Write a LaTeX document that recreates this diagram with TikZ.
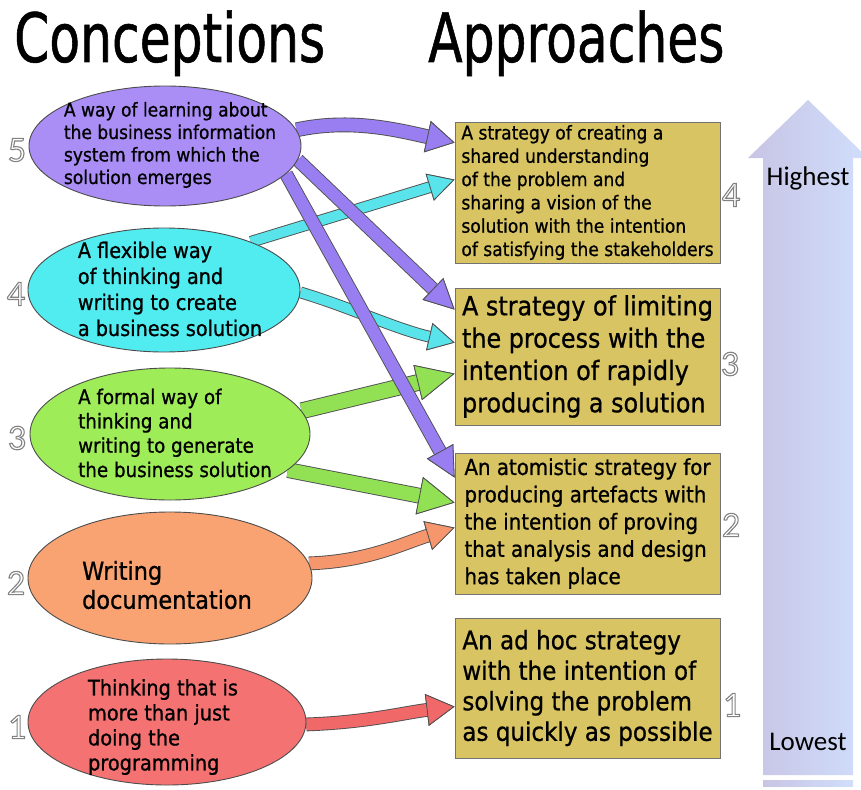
\documentclass[tikz,border=0pt]{standalone}
\usepackage{fontspec}
\usetikzlibrary{shapes.geometric,arrows.meta,backgrounds}
\newfontfamily\bodyf[FakeStretch=0.9,FakeBold=0.8]{DejaVu Sans}
\newfontfamily\titlef[FakeStretch=0.74,FakeBold=0.8]{DejaVu Sans}
\newfontfamily\calf{Carlito}
% outlined (stroked, unfilled) glyphs
\newcommand\hollow[1]{\special{pdf:literal direct 1 Tr 1.1 w}#1\special{pdf:literal direct 0 Tr 0.4 w}}

\definecolor{pur}{RGB}{170,142,246}
\definecolor{purA}{RGB}{152,126,240}
\definecolor{cya}{RGB}{80,236,240}
\definecolor{cyaA}{RGB}{88,228,234}
\definecolor{grn}{RGB}{158,236,88}
\definecolor{grnA}{RGB}{146,224,84}
\definecolor{org}{RGB}{250,163,114}
\definecolor{orgA}{RGB}{246,150,108}
\definecolor{redE}{RGB}{245,114,114}
\definecolor{redA}{RGB}{240,104,104}
\definecolor{gold}{RGB}{216,196,98}
\definecolor{edge}{RGB}{80,80,80}
\definecolor{numgray}{RGB}{130,130,130}
\definecolor{barL}{RGB}{200,196,228}
\definecolor{barR}{RGB}{208,222,252}

\begin{document}
\begin{tikzpicture}[x=1pt,y=-1pt,
  ell/.style={ellipse, draw=black!70, line width=0.9pt, inner sep=0pt},
  etext/.style={align=left, inner sep=0pt},
  box/.style={rectangle, draw=black!55, line width=0.8pt, fill=gold,
    minimum width=265pt, align=left, inner sep=0pt},
  num/.style={inner sep=0pt, text=numgray, font=\calf\fontsize{36}{36}\selectfont},
  title/.style={anchor=base west, inner sep=0pt, font=\titlef\fontsize{68}{68}\selectfont},
  levellabel/.style={inner sep=0pt, font=\calf\fontsize{27}{27}\selectfont},
  barrow/.style n args={5}{
    preaction={draw=edge, line width=#3, -{Triangle[length=#4, width=#5, line width=0.8pt]}},
    draw=#1, line width=#2,
    -{Triangle[length=#4, width=#5, line width=0.8pt, fill=#1, color=edge]}}
]
\useasboundingbox (0,0) rectangle (861,789);

% rising level arrow on the right
\shade[left color=barL, right color=barR]
  (763,775) -- (763,158) -- (748,158) -- (808,100) -- (868,158)
  -- (853,158) -- (853,775) -- cycle;
\shade[left color=barL, right color=barR] (763,780) rectangle (853,786);
\node[levellabel] (hi) at (808,178) {Highest};
\node[levellabel] (lo) at (808,742) {Lowest};

% headings
\node[title] (tc) at (14,62) {Conceptions};
\node[title] (ta) at (428,62) {Approaches};

% approaches
\node[box, minimum height=141pt, font=\bodyf\fontsize{19}{23.3}\selectfont] (b4) at (587.5,192.5)
  {A strategy of creating a\\shared understanding\\of the problem and\\sharing a vision of the\\solution with the intention\\of satisfying the stakeholders};
\node[box, minimum height=137pt, font=\bodyf\fontsize{26.5}{32.3}\selectfont] (b3) at (587.5,356.5)
  {A strategy of limiting\\the process with the\\intention of rapidly\\producing a solution};
\node[box, minimum height=141pt, font=\bodyf\fontsize{22}{27.3}\selectfont] (b2) at (587.5,523.5)
  {An atomistic strategy for\\producing artefacts with\\the intention of proving\\that analysis and design\\has taken place};
\node[box, minimum height=140pt, font=\bodyf\fontsize{25.6}{30.5}\selectfont] (b1) at (587.5,688)
  {An ad hoc strategy\\with the intention of\\solving the problem\\as quickly as possible};

% conceptions
\node[ell, fill=pur,  minimum width=272pt, minimum height=120pt] (e5) at (165,146) {};
\node[ell, fill=cya,  minimum width=272pt, minimum height=124pt] (e4) at (164,290) {};
\node[ell, fill=grn,  minimum width=280pt, minimum height=132pt] (e3) at (170,434) {};
\node[ell, fill=org,  minimum width=284pt, minimum height=132pt] (e2) at (170,578) {};
\node[ell, fill=redE, minimum width=278pt, minimum height=126pt] (e1) at (167,722) {};

\node[etext, font=\bodyf\fontsize{19}{22.5}\selectfont] (e5t) at (170,145)
  {A way of learning about\\the business information\\system from which the\\solution emerges};
\node[etext, font=\bodyf\fontsize{21.4}{26}\selectfont] (e4t) at (170,289)
  {A flexible way\\of thinking and\\writing to create\\a business solution};
\node[etext, font=\bodyf\fontsize{20.3}{24.3}\selectfont] (e3t) at (175,433)
  {A formal way of\\thinking and\\writing to generate\\the business solution};
\node[etext, font=\bodyf\fontsize{24.9}{29}\selectfont] (e2t) at (167,585)
  {Writing\\documentation};
\node[etext, font=\bodyf\fontsize{21.5}{25}\selectfont] (e1t) at (163,727)
  {Thinking that is\\more than just\\doing the\\programming};

% level numbers
\node[num] (l5) at (17,150) {\hollow{5}};
\node[num] (l4) at (16,294) {\hollow{4}};
\node[num] (l3) at (17,438) {\hollow{3}};
\node[num] (l2) at (16,583) {\hollow{2}};
\node[num] (l1) at (17,727) {\hollow{1}};
\node[num] (r4) at (731,195) {\hollow{4}};
\node[num] (r3) at (730,364) {\hollow{3}};
\node[num] (r2) at (731,525) {\hollow{2}};
\node[num] (r1) at (732,705) {\hollow{1}};

% links from conceptions to approaches
\begin{pgfonlayer}{background}
\draw[barrow={cyaA}{10pt}{11.8pt}{26pt}{28pt}]
  (e4.29) -- ([yshift=-58pt]b4.north west);
\draw[barrow={cyaA}{10pt}{11.8pt}{26pt}{28pt}]
  (e4.-1) .. controls +(50,15) and +(-60,-14) .. ([yshift=-55pt]b3.north west);
\draw[barrow={grnA}{15pt}{16.8pt}{38pt}{36pt}]
  (e3.10) -- ([yshift=-86pt]b3.north west);
\draw[barrow={grnA}{14pt}{15.8pt}{36pt}{38pt}]
  (e3.-17) -- ([yshift=-50pt]b2.north west);
\draw[barrow={orgA}{12pt}{13.8pt}{28pt}{30pt}]
  (e2.6) .. controls +(60,-2) and +(-50,15) .. ([yshift=-75pt]b2.north west);
\draw[barrow={redA}{12pt}{13.8pt}{28pt}{32pt}]
  (e1.-1) .. controls +(60,-2) and +(-50,6) .. ([yshift=-89pt]b1.north west);
\draw[barrow={purA}{13pt}{14.8pt}{28pt}{32pt}]
  (e5.7) .. controls +(55,-12) and +(-55,-12) .. ([yshift=-21pt]b4.north west);
\draw[barrow={purA}{12pt}{13.8pt}{30pt}{30pt}]
  (e5.-6) -- ([yshift=-22pt]b3.north west);
\draw[barrow={purA}{12pt}{13.8pt}{30pt}{30pt}]
  (e5.-13) -- ([yshift=-25pt]b2.north west);
\end{pgfonlayer}
\end{tikzpicture}
\end{document}
